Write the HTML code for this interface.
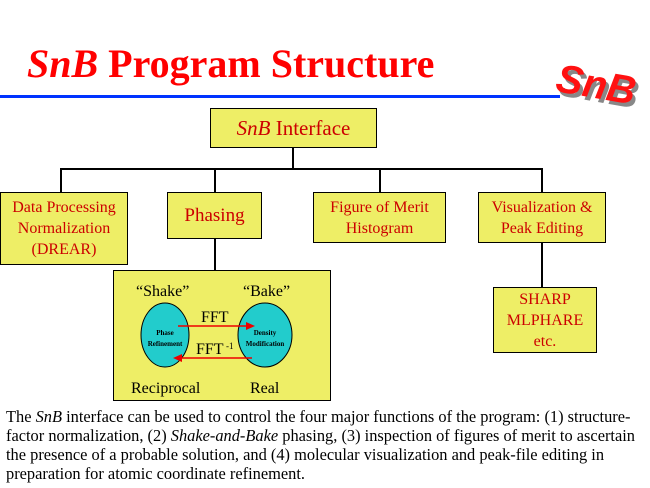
<!DOCTYPE html>
<html><head><style>
body{margin:0;width:650px;height:488px;background:#fff;position:relative;overflow:hidden;font-family:"Liberation Serif",serif}
.b{position:absolute;background:#eeee66;border:1.5px solid #000;box-sizing:border-box;color:#cc0000;text-align:center;display:flex;align-items:center;justify-content:center;font-size:16px;line-height:21px}
.l{position:absolute;background:#000}
</style></head><body>
<div style="position:absolute;left:27px;top:40px;font-size:40px;font-weight:bold;color:#ff0000;white-space:nowrap"><i>SnB</i> Program Structure</div>
<div style="position:absolute;left:0;top:95px;width:560px;height:3px;background:#0033ff"></div>
<div style="position:absolute;left:559px;top:67px;font-family:'Liberation Sans',sans-serif;font-style:italic;font-weight:bold;font-size:40px;color:#888;transform:rotate(10deg)">SnB</div>
<div style="position:absolute;left:556px;top:63px;font-family:'Liberation Sans',sans-serif;font-style:italic;font-weight:bold;font-size:40px;color:#ff1111;transform:rotate(10deg)">SnB</div>

<div class="b" style="left:210px;top:108px;width:167px;height:40px;font-size:21px"><span><i>SnB</i> Interface</span></div>
<div class="l" style="left:292px;top:148px;width:1.5px;height:21px"></div>
<div class="l" style="left:60px;top:168px;width:482px;height:1.5px"></div>
<div class="l" style="left:60px;top:168px;width:1.5px;height:24px"></div>
<div class="l" style="left:214px;top:168px;width:1.5px;height:24px"></div>
<div class="l" style="left:379px;top:168px;width:1.5px;height:24px"></div>
<div class="l" style="left:541px;top:168px;width:1.5px;height:24px"></div>

<div class="b" style="left:0;top:192px;width:128px;height:73px">Data Processing<br>Normalization<br>(DREAR)</div>
<div class="b" style="left:167px;top:192px;width:95px;height:47px;font-size:19px">Phasing</div>
<div class="b" style="left:313px;top:192px;width:133px;height:51px">Figure of Merit<br>Histogram</div>
<div class="b" style="left:478px;top:192px;width:128px;height:51px">Visualization &amp;<br>Peak Editing</div>
<div class="l" style="left:214px;top:239px;width:1.5px;height:31px"></div>
<div class="l" style="left:541px;top:243px;width:1.5px;height:44px"></div>
<div class="b" style="left:493px;top:287px;width:104px;height:66px">SHARP<br>MLPHARE<br>etc.</div>

<div class="b" style="left:113px;top:270px;width:218px;height:131px"></div>
<svg style="position:absolute;left:0;top:0" width="650" height="488">
<g font-family="Liberation Serif,serif" fill="#000">
<text x="136" y="296" font-size="16">“Shake”</text>
<text x="243" y="296" font-size="16">“Bake”</text>
<ellipse cx="165" cy="335" rx="24" ry="32" fill="#22cccc" stroke="#000"/>
<ellipse cx="265" cy="335" rx="27" ry="32" fill="#22cccc" stroke="#000"/>
<text x="165" y="335" font-size="7" font-weight="bold" text-anchor="middle">Phase</text>
<text x="165" y="346" font-size="7" font-weight="bold" text-anchor="middle">Refinement</text>
<text x="265" y="335" font-size="7" font-weight="bold" text-anchor="middle">Density</text>
<text x="265" y="346" font-size="7" font-weight="bold" text-anchor="middle">Modification</text>
<line x1="178" y1="326" x2="250" y2="326" stroke="#ee0000" stroke-width="1.5"/>
<polygon points="255,326 246,322 246,330" fill="#ee0000"/>
<line x1="178" y1="358" x2="252" y2="358" stroke="#ee0000" stroke-width="1.5"/>
<polygon points="173,358 182,354 182,362" fill="#ee0000"/>
<text x="201" y="322" font-size="16">FFT</text>
<text x="196" y="354" font-size="16">FFT</text>
<text x="226" y="349" font-size="9">-1</text>
<text x="131" y="393" font-size="16">Reciprocal</text>
<text x="250" y="393" font-size="16">Real</text>
</g></svg>

<div style="position:absolute;left:6px;top:407px;font-size:16.4px;line-height:19px;color:#000;white-space:nowrap">The <i>SnB</i> interface can be used to control the four major functions of the program: (1) structure-<br>factor normalization, (2) <i>Shake-and-Bake</i> phasing, (3) inspection of figures of merit to ascertain<br>the presence of a probable solution, and (4) molecular visualization and peak-file editing in<br>preparation for atomic coordinate refinement.</div>
</body></html>
